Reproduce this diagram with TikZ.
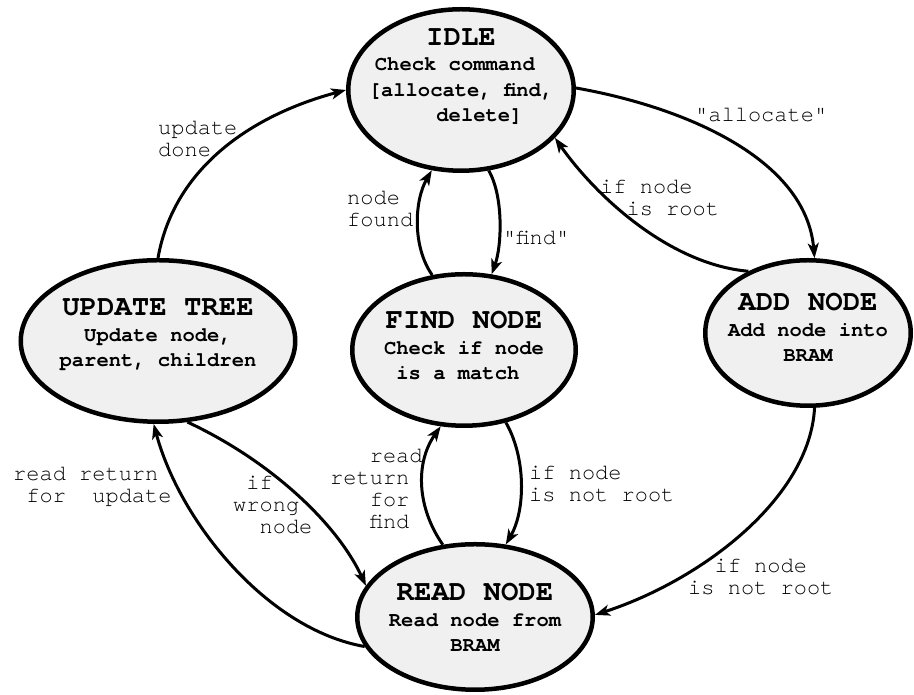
\documentclass[tikz,border=0pt]{standalone}
\usepackage{fontspec}
\setmonofont{TeX Gyre Cursor}
\usetikzlibrary{shapes.geometric,arrows.meta}
\definecolor{statefill}{HTML}{F0F0F0}
\newcommand{\sttitle}[1]{{\fontsize{29}{25.5}\selectfont #1}}
\tikzset{
  state/.style={ellipse, draw, line width=4.5pt, fill=statefill, inner sep=0pt},
  % multi-line nodes sit on the baseline of their last line
  statetext/.style={align=center, inner sep=0pt, anchor=base,
    font=\ttfamily\bfseries\fontsize{20.5}{25.5}\selectfont},
  edgelabel/.style={align=left, inner sep=0pt, anchor=base west,
    font=\ttfamily\fontsize{22}{21.7}\selectfont},
  trans/.style={line width=3pt, -{Stealth[length=15pt,width=11pt,inset=4pt]}},
}
\begin{document}
\begin{tikzpicture}[x=1pt,y=1pt]
\useasboundingbox (0,0) rectangle (914,695);

% states
\node[state, minimum width=225.5, minimum height=161.5] (idle) at (461,605) {};
\node[state, minimum width=274.5, minimum height=161.5] (upd)  at (158,354) {};
\node[state, minimum width=223.5, minimum height=151.5] (find) at (464,345) {};
\node[state, minimum width=205.5, minimum height=145.5] (add)  at (808,362) {};
\node[state, minimum width=235.5, minimum height=145.5] (read) at (475,78)  {};

% state descriptions
\node[statetext] (idle-t) at (461,573)
  {\sttitle{IDLE}\\Check command\phantom{x}\\{[}allocate, find,\\\phantom{xxx}delete]};
\node[statetext] (upd-t) at (158,328)
  {\sttitle{UPDATE TREE}\\Update node,\\parent, children};
\node[statetext] (find-t) at (464,315)
  {\sttitle{FIND NODE}\\Check if node\\is a match\phantom{x}};
\node[statetext] (add-t) at (808,333)
  {\sttitle{ADD NODE}\\Add node into\\BRAM};
\node[statetext] (read-t) at (475,43)
  {\sttitle{READ NODE}\\Read node from\\BRAM};

% transitions
\draw[trans] (upd.90)  .. controls +(80:90)   and +(195:100) .. (idle.180);
\draw[trans] (idle.1)  .. controls +(-10:110) and +(95:100)  .. (add.85);
\draw[trans] (add.134) .. controls +(175:80)  and +(-55:70)  .. (idle.-27);
\draw[trans] (idle.-71) .. controls +(-60:30) and +(70:30)   .. (find.70);
\draw[trans] (find.113) .. controls +(125:35) and +(-120:35) .. (idle.-110);
\draw[trans] (find.-60) .. controls +(-60:40) and +(60:40)   .. (read.67);
\draw[trans] (read.114) .. controls +(125:45) and +(-125:45) .. (find.-107);
\draw[trans] (add.-85)  .. controls +(-93:90) and +(18:113)  .. (read.1);
\draw[trans] (read.-165) .. controls +(170:100) and +(-75:100) .. (upd.-93);
\draw[trans] (upd.-70)  .. controls +(-25:90) and +(115:70)  .. (read.164);

% transition labels
\node[edgelabel] (l-done)    at (158,538.3) {update\\done};
\node[edgelabel] (l-alloc)   at (695,573)   {"allocate"};
\node[edgelabel] (l-root)    at (600,479.3) {if node\\\phantom{xx}is root};
\node[edgelabel] (l-found)   at (347,468.3) {node\\found};
\node[edgelabel] (l-find)    at (503,450)   {"find"};
\node[edgelabel] (l-rfind)   at (330,166.9) {\phantom{xxx}read\\return\\\phantom{xxx}for\\\phantom{xxx}find};
\node[edgelabel] (l-nroot1)  at (529,193.3) {if node\\is not root};
\node[edgelabel] (l-nroot2)  at (688,100.3) {\phantom{xx}if node\\is not root};
\node[edgelabel] (l-rupd)    at (13,192.3)  {read return\\\phantom{x}for\phantom{xx}update};
\node[edgelabel] (l-wrong)   at (233,161.6) {\phantom{x}if\\wrong\\\phantom{xx}node};
\end{tikzpicture}
\end{document}
